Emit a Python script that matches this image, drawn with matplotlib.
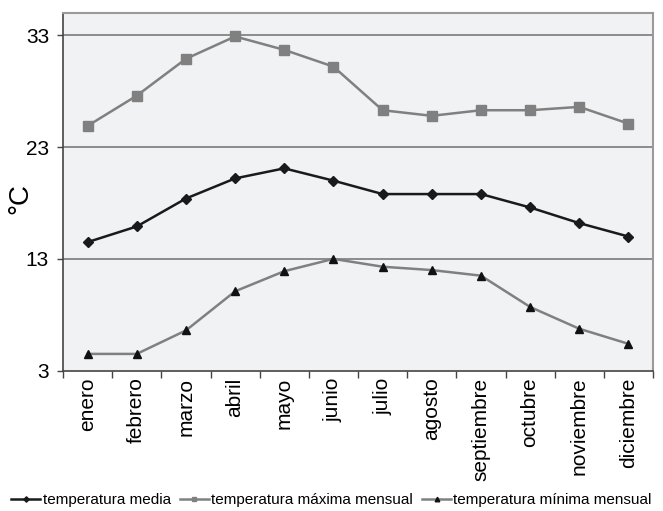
import matplotlib
matplotlib.use("Agg")
import matplotlib.pyplot as plt
import numpy as np

plt.rcParams['font.family'] = ['Liberation Sans', 'DejaVu Sans']

meses = ['enero', 'febrero', 'marzo', 'abril', 'mayo', 'junio', 'julio',
         'agosto', 'septiembre', 'octubre', 'noviembre', 'diciembre']
t_media = [14.5, 15.9, 18.4, 20.2, 21.1, 20.0, 18.8, 18.8, 18.8, 17.6, 16.2, 15.0]
t_maxima = [24.9, 27.6, 30.9, 32.9, 31.7, 30.2, 26.3, 25.8, 26.3, 26.3, 26.6, 25.1]
t_minima = [4.5, 4.5, 6.6, 10.1, 11.9, 13.0, 12.3, 12.0, 11.5, 8.7, 6.75, 5.4]
y_ticks = [3, 13, 23, 33]

fig = plt.figure(figsize=(6.63, 5.11), dpi=100)
ax = fig.add_axes([0.095, 0.2746, 0.89, 0.70])
ax.set_facecolor('#f1f2f4')

x = np.arange(len(meses))
ax.plot(x, t_media, color='#1a1a1a', lw=1.8, marker='D', ms=5,
        mfc='#1a1a1a', mec='#1a1a1a', label='temperatura media', zorder=3)
ax.plot(x, t_maxima, color='#808080', lw=1.8, marker='s', ms=6.5,
        mfc='#808080', mec='#808080', label='temperatura máxima mensual', zorder=3)
ax.plot(x, t_minima, color='#808080', lw=1.8, marker='^', ms=6,
        mfc='#111111', mec='#111111', label='temperatura mínima mensual', zorder=3)

ax.set_xlim(-0.5, len(meses) - 0.5)
ax.set_ylim(3, 35)
ax.set_yticks(y_ticks)
ax.set_yticklabels([str(v) for v in y_ticks], fontsize=15)
for v in y_ticks[1:]:
    ax.axhline(v, color='#7a7a7a', lw=1.2, zorder=1)

ax.set_xticks(x)
ax.set_xticklabels(meses, rotation=90, fontsize=15)
ax.tick_params(axis='x', length=0, pad=5)
ax.set_xticks(np.arange(-0.5, len(meses), 1), minor=True)
ax.tick_params(axis='x', which='minor', length=5, color='#444444', width=1)
ax.tick_params(axis='y', length=4, color='#444444', width=1, pad=6)

for s in ['top', 'right']:
    ax.spines[s].set_color('#9a9a9a')
    ax.spines[s].set_linewidth(1.5)
for s in ['left', 'bottom']:
    ax.spines[s].set_color('#444444')
    ax.spines[s].set_linewidth(1.2)

ax.set_ylabel('°C', fontsize=20)
ax.yaxis.set_label_coords(-0.05, 0.48)

fig.legend(loc='lower center', bbox_to_anchor=(0.5, -0.02), ncol=3,
           frameon=False, fontsize=11, handlelength=1.9, handletextpad=0.15,
           columnspacing=0.6, markerscale=0.55)

fig.savefig('out.png', dpi=100)
